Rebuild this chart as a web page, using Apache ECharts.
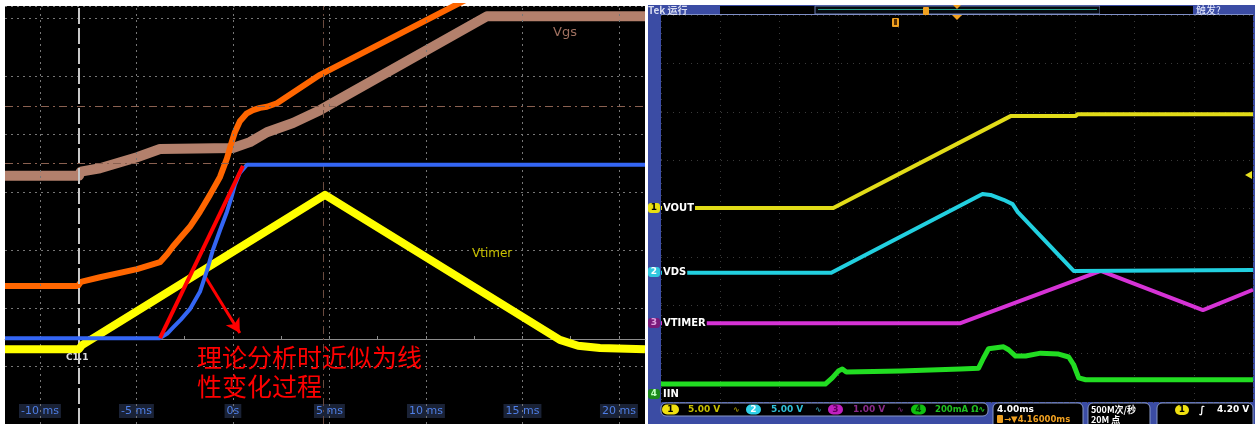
<!DOCTYPE html>
<html>
<head>
<meta charset="utf-8">
<script src="https://cdn.jsdelivr.net/npm/echarts@6/dist/echarts.min.js"></script>
<style>
  html, body { margin: 0; padding: 0; background: #ffffff; }
  #chart { width: 1255px; height: 424px; }
</style>
</head>
<body>
<div id="chart"></div>
<script>
// ---------- Left scope: time in ms, level in screen divisions ----------
const leftTimeTicks = [-10, -5, 0, 5, 10, 15, 20];
const leftAxisTicks = [-10, -7.5, -5, -2.5, 0, 2.5, 5, 7.5, 10, 12.5, 15, 17.5, 20];

const vgsTrace = [[-11.81, 4.28], [-7.98, 4.28], [-7.88, 4.35], [-6.89, 4.41], [-4.97, 4.60],
  [-3.78, 4.74], [0, 4.76], [0.88, 4.86], [1.76, 5.03], [3.11, 5.19], [4.51, 5.41],
  [13.16, 7.03], [21.35, 7.03]];
const gateTrace = [[-11.81, 2.38], [-8.03, 2.38], [-7.88, 2.45], [-6.89, 2.53], [-4.97, 2.67],
  [-3.78, 2.79], [-3.40, 2.93], [-3.11, 3.06], [-2.70, 3.22], [-2.23, 3.40], [-1.71, 3.66],
  [-1.19, 3.95], [-0.67, 4.26], [-0.31, 4.58], [-0.10, 4.82], [0.10, 5.03], [0.36, 5.22],
  [0.70, 5.35], [1.04, 5.41], [1.40, 5.45], [1.76, 5.47], [2.28, 5.53], [4.51, 6.02],
  [12.28, 7.35]];
const drainTrace = [[-11.81, 1.48], [-3.78, 1.48], [-3.40, 1.56], [-3.11, 1.66], [-2.70, 1.80],
  [-2.23, 1.98], [-1.71, 2.28], [-1.35, 2.64], [-1.04, 3.0], [-0.67, 3.34], [-0.31, 3.66],
  [-0.10, 3.88], [0.10, 4.12], [0.36, 4.33], [0.73, 4.47], [21.35, 4.47]];
const vtimerTrace = [[-11.81, 1.29], [-7.98, 1.29], [-7.82, 1.36], [4.77, 3.95], [16.94, 1.45],
  [17.88, 1.35], [19.02, 1.31], [21.35, 1.29]];
const linearGuide = [[-3.78, 1.48], [0.52, 4.45]];
const guideArrow = [[-1.71, 2.69], [0.36, 1.57]];

const cursorC1 = -7.98;
const cursorC2 = 4.66;
const refLevels = [5.48, 4.5];

// ---------- Right scope: time and level in screen divisions ----------
const voutTrace = [[0, 4.01], [2.91, 4.01], [5.905, 5.91], [7.0, 5.91], [7.04, 5.95], [10, 5.95]];
const vdsTrace = [[0, 2.67], [2.876, 2.67], [5.431, 4.30], [5.567, 4.28], [5.787, 4.18],
  [5.939, 4.09], [6.024, 3.93], [6.971, 2.71], [10, 2.73]];
const vtimerScopeTrace = [[0, 1.63], [5.059, 1.63], [7.428, 2.71], [9.154, 1.90], [10, 2.32]];
const iinTrace = [[0, 0.37], [2.775, 0.37], [2.893, 0.50], [2.995, 0.64], [3.063, 0.68],
  [3.130, 0.62], [4.044, 0.64], [5.059, 0.68], [5.364, 0.70], [5.448, 0.91], [5.533, 1.10],
  [5.787, 1.14], [5.871, 1.08], [5.990, 0.95], [6.159, 0.95], [6.413, 1.01], [6.717, 0.99],
  [6.887, 0.93], [6.971, 0.77], [7.056, 0.50], [7.174, 0.46], [10, 0.46]];

const chart = echarts.init(document.getElementById('chart'), null, { renderer: 'canvas' });

const uiFont = '"DejaVu Sans", sans-serif';
const cjkFont = '"Noto Sans CJK SC", sans-serif';

function text(x, y, s, fill, font, extra) {
  return Object.assign({
    type: 'text', x: x, y: y, z: 60, silent: true,
    style: Object.assign({ text: s, fill: fill, font: font, verticalAlign: 'middle' }, (extra && extra.style) || {})
  }, extra ? { z: extra.z || 60 } : {});
}
function rect(x, y, w, h, fill, extra) {
  extra = extra || {};
  return {
    type: 'rect', z: extra.z !== undefined ? extra.z : 55, silent: true,
    shape: { x: x, y: y, width: w, height: h, r: extra.r || 0 },
    style: { fill: fill, stroke: extra.stroke || null, lineWidth: extra.lineWidth || 0 }
  };
}
function badge(x, y, w, fill, label, labelFill) {
  return [
    rect(x, y - 5, w, 10, fill, { r: 5, z: 61 }),
    text(x + w / 2, y, label, labelFill, 'bold 9px ' + uiFont, { z: 62, style: { align: 'center' } })
  ];
}
function channelTag(y, fill, num, numFill, name) {
  return [
    rect(648, y - 5, 12, 10, fill, { r: 3, z: 61 }),
    text(654, y, num, numFill, 'bold 9px ' + uiFont, { z: 62, style: { align: 'center' } }),
    text(662, y, name, '#ffffff', 'bold 10px ' + uiFont, { z: 62, style: { backgroundColor: '#000000', padding: [1, 1] } })
  ];
}

const statusFont = 'bold 9px ' + uiFont;

const graphics = [
  // left scope screen
  rect(5, 6, 640, 418, '#000000', { z: -5 }),
  // right scope frame and screen
  rect(648, 5, 607, 419, '#3b4ca4', { z: -6 }),
  rect(661, 15, 592, 387, '#000000', { z: -5 }),
  // right top status row
  rect(720, 6, 95, 8, '#000000', { z: 55 }),
  rect(815, 6, 285, 8, '#050a10', { z: 55, stroke: '#6a7ab0', lineWidth: 1 }),
  rect(818, 9, 279, 1, '#2aa08a', { z: 56 }),
  rect(1100, 6, 93, 8, '#000000', { z: 55 }),
  rect(661, 14, 592, 1, '#8090c8', { z: 55 }),
  text(648, 10, 'Tek 运行', '#d8dcf0', 'bold 10px ' + cjkFont),
  text(1196, 10, '触发?', '#e8ecff', '10px ' + cjkFont),
  rect(923, 7, 6, 8, '#f0a020', { r: 1, z: 57 }),
  { type: 'polygon', z: 57, silent: true, shape: { points: [[953, 5], [961, 5], [957, 9]] }, style: { fill: '#f0a020' } },
  { type: 'polygon', z: 57, silent: true, shape: { points: [[952, 15], [962, 15], [957, 20]] }, style: { fill: '#f0a020' } },
  rect(892, 18, 7, 9, '#f0a020', { r: 1, z: 57 }),
  rect(894, 19, 3, 6, '#5a3000', { z: 58 }),
  { type: 'polygon', z: 57, silent: true, shape: { points: [[1245, 175], [1252, 171], [1252, 179]] }, style: { fill: '#e8e020' } },
  // left scope annotations
  text(553, 33, 'Vgs', '#a07060', '13px ' + uiFont),
  text(472, 254, 'Vtimer', '#c8c000', '12px ' + uiFont),
  text(66, 358, 'C1.1', '#dddddd', 'bold 9px ' + uiFont),
  text(197, 357, '理论分析时近似为线', '#ff0000', '25px ' + cjkFont),
  text(197, 386, '性变化过程', '#ff0000', '25px ' + cjkFont),
  // bottom status bar of right scope
  rect(661, 403, 327, 13, '#000000', { r: 5, stroke: '#8898c8', lineWidth: 1 }),
  ...badge(662, 409.5, 17, '#f0e010', '1', '#000000'),
  text(688, 409.5, '5.00 V', '#c8c000', statusFont),
  text(733, 409.5, '∿', '#a09000', 'bold 8px ' + uiFont),
  ...badge(746, 409.5, 15, '#30d0e8', '2', '#ffffff'),
  text(771, 409.5, '5.00 V', '#30c0d8', statusFont),
  text(815, 409.5, '∿', '#3090a0', 'bold 8px ' + uiFont),
  ...badge(828, 409.5, 15, '#c020c0', '3', '#600060'),
  text(853, 409.5, '1.00 V', '#8a2a8a', statusFont),
  text(897, 409.5, '∿', '#702070', 'bold 8px ' + uiFont),
  ...badge(911, 409.5, 15, '#10c010', '4', '#004000'),
  text(935, 409.5, '200mA Ω∿', '#20c020', 'bold 8.5px ' + uiFont),
  rect(993, 403, 90, 26, '#000000', { r: 5, stroke: '#8898c8', lineWidth: 1 }),
  text(997, 410, '4.00ms', '#ffffff', statusFont),
  rect(997, 415, 6, 8, '#f0a020', { r: 1, z: 61 }),
  text(1004, 419.5, '→▼4.16000ms', '#f0a020', 'bold 8.5px ' + uiFont),
  rect(1088, 403, 62, 26, '#000000', { r: 5, stroke: '#8898c8', lineWidth: 1 }),
  text(1091, 410, '500M次/秒', '#ffffff', 'bold 9px ' + cjkFont),
  text(1091, 419.5, '20M 点', '#ffffff', 'bold 9px ' + cjkFont),
  rect(1157, 403, 96, 26, '#000000', { r: 5, stroke: '#8898c8', lineWidth: 1 }),
  ...badge(1175, 410, 14, '#f0e010', '1', '#000000'),
  text(1199, 410, '∫', '#ffffff', 'bold 10px ' + uiFont),
  text(1217, 410, '4.20 V', '#ffffff', statusFont),
  // channel tags on the right scope
  ...channelTag(208, '#e8e010', '1', '#000000', 'VOUT'),
  ...channelTag(272, '#30c8e0', '2', '#ffffff', 'VDS'),
  ...channelTag(323, '#7a1a7a', '3', '#e0a0e0', 'VTIMER'),
  ...channelTag(394, '#1a8a1a', '4', '#c0ffc0', 'IIN')
];

const dotted = { color: '#767676', type: [2, 4], width: 1 };
const tekDots = { color: '#3a3a3a', type: [1, 5], width: 1 };

function traceSeries(name, data, color, width, axis, z, extra) {
  return Object.assign({
    name: name, type: 'line', data: data,
    xAxisIndex: axis, yAxisIndex: axis,
    showSymbol: false, symbol: 'none', z: z, silent: true,
    lineStyle: { color: color, width: width, cap: 'butt', join: 'round' },
    emphasis: { disabled: true },
    animation: false
  }, extra || {});
}

const option = {
  backgroundColor: '#ffffff',
  animation: false,
  grid: [
    { left: 5, top: 6, width: 640, height: 418, show: false },
    { left: 661, top: 15, width: 592, height: 387, show: false }
  ],
  xAxis: [
    {
      type: 'value', gridIndex: 0, min: -11.81, max: 21.35,
      axisLine: { show: false }, axisTick: { show: false }, splitLine: { show: false },
      axisLabel: {
        show: true, inside: true, margin: 6, customValues: leftTimeTicks,
        formatter: v => (v === 0 ? '0s' : v + ' ms'),
        color: '#4f7fe6', fontSize: 11, fontFamily: 'DejaVu Sans',
        backgroundColor: '#1a2236', padding: [2, 2, 1, 2]
      }
    },
    {
      type: 'value', gridIndex: 1, min: 0, max: 10, interval: 1,
      axisLine: { show: false }, axisTick: { show: false }, axisLabel: { show: false },
      splitLine: { show: true, lineStyle: tekDots }
    },
    {
      // centre axis with tick marks on the left scope
      type: 'value', gridIndex: 0, min: -11.81, max: 21.35, position: 'bottom', offset: -85,
      axisLine: { show: true, onZero: false, lineStyle: { color: '#8c8c8c', width: 1 } },
      axisTick: { show: true, customValues: leftAxisTicks, length: 3, inside: true, lineStyle: { color: '#8c8c8c' } },
      axisLabel: { show: false }, splitLine: { show: false }
    }
  ],
  yAxis: [
    {
      type: 'value', gridIndex: 0, min: 0, max: 418 / 58, interval: 1,
      axisLine: { show: false }, axisTick: { show: false }, axisLabel: { show: false },
      splitLine: { show: true, lineStyle: dotted }
    },
    {
      type: 'value', gridIndex: 1, min: 0, max: 8, interval: 1,
      axisLine: { show: false }, axisTick: { show: false }, axisLabel: { show: false },
      splitLine: { show: true, lineStyle: tekDots }
    }
  ],
  graphic: { elements: graphics },
  series: [
    {
      name: 'graticule', type: 'line', data: [], xAxisIndex: 0, yAxisIndex: 0, z: 1, silent: true,
      markLine: {
        silent: true, symbol: ['none', 'none'], animation: false, label: { show: false },
        emphasis: { disabled: true },
        data: [
          ...leftTimeTicks.map(t => ({ xAxis: t, lineStyle: dotted })),
          { xAxis: cursorC1, lineStyle: { color: '#c8c8c8', type: [16, 4], width: 2 } },
          { xAxis: cursorC2, lineStyle: { color: '#6a4a3e', type: [8, 4, 2, 4], width: 1 } },
          ...refLevels.map(v => ({ yAxis: v, lineStyle: { color: '#8a6050', type: [8, 4, 2, 4], width: 1 } }))
        ]
      }
    },
    traceSeries('Vgs', vgsTrace, '#b3806c', 10, 0, 3),
    traceSeries('Vg', gateTrace, '#ff6600', 6, 0, 4),
    traceSeries('Vtimer', vtimerTrace, '#ffff00', 8, 0, 5),
    traceSeries('Vds', drainTrace, '#3466f4', 4, 0, 6),
    traceSeries('linear', linearGuide, '#ff0000', 4, 0, 7, {
      markLine: {
        silent: true, symbol: ['none', 'arrow'], symbolSize: [12, 14], animation: false,
        label: { show: false }, emphasis: { disabled: true },
        lineStyle: { color: '#ff0000', width: 3, type: 'solid' },
        data: [[{ coord: guideArrow[0] }, { coord: guideArrow[1] }]]
      }
    }),
    traceSeries('IIN', iinTrace, '#22dd22', 5, 1, 3),
    traceSeries('VTIMER', vtimerScopeTrace, '#d633d6', 4, 1, 4),
    traceSeries('VDS', vdsTrace, '#22d0e0', 4, 1, 5),
    traceSeries('VOUT', voutTrace, '#e2dc18', 4, 1, 6)
  ]
};

chart.setOption(option);
</script>
</body>
</html>
